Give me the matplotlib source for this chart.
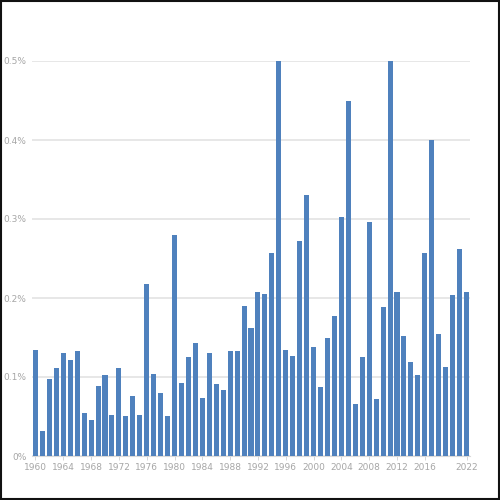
import matplotlib
matplotlib.use("Agg")
import matplotlib.pyplot as plt
import matplotlib.patches as mpatches

BAR = "#4f81bd"
GRID = "#e3e3e3"
LABEL = "#a6a6a6"

years = list(range(1960, 2023))
values = [
    0.134, 0.032, 0.098, 0.112, 0.130, 0.122, 0.133, 0.054, 0.046, 0.088,  # 1960s
    0.103, 0.052, 0.112, 0.051, 0.076, 0.052, 0.218, 0.104, 0.080, 0.051,  # 1970s
    0.280, 0.092, 0.125, 0.143, 0.073, 0.130, 0.091, 0.083, 0.133, 0.133,  # 1980s
    0.190, 0.162, 0.207, 0.205, 0.257, 0.500, 0.134, 0.126, 0.272, 0.330,  # 1990s
    0.138, 0.087, 0.149, 0.177, 0.302, 0.450, 0.066, 0.125, 0.296, 0.072,  # 2000s
    0.188, 0.500, 0.207, 0.152, 0.119, 0.103, 0.257, 0.400, 0.154, 0.113,  # 2010s
    0.204, 0.262, 0.208,                                                   # 2020s
]
tick_years = [1960, 1964, 1968, 1972, 1976, 1980, 1984, 1988, 1992, 1996,
              2000, 2004, 2008, 2012, 2016, 2022]
y_ticks = [0, 0.1, 0.2, 0.3, 0.4, 0.5]
y_labels = ["0%", "0.1%", "0.2%", "0.3%", "0.4%", "0.5%"]

fig = plt.figure(figsize=(5, 5), dpi=100)
ax = fig.add_axes([0.064, 0.088, 0.876, 0.79])

ax.bar(years, values, width=0.72, color=BAR, zorder=3)

ax.set_xlim(years[0] - 0.5, years[-1] + 0.5)
ax.set_ylim(0, 0.5)
ax.set_yticks(y_ticks)
ax.set_yticklabels(y_labels)
ax.set_xticks(tick_years)
ax.set_xticklabels([str(y) for y in tick_years])
ax.tick_params(axis="both", colors=LABEL, labelsize=6.5, length=0, pad=4)
ax.tick_params(axis="x", length=3, width=0.6, color="#d0d0d0", pad=2)

ax.yaxis.grid(True, color=GRID, linewidth=1.2, zorder=0)
for s in ["top", "right", "left"]:
    ax.spines[s].set_visible(False)
ax.spines["bottom"].set_color("#d9d9d9")
ax.spines["bottom"].set_linewidth(0.8)

# dark frame round the whole picture
fig.patches.append(mpatches.Rectangle((0.002, 0.002), 0.996, 0.996, transform=fig.transFigure,
                                      fill=False, edgecolor="#111111", linewidth=1.5))

fig.savefig("out.png", dpi=100, facecolor="white")
